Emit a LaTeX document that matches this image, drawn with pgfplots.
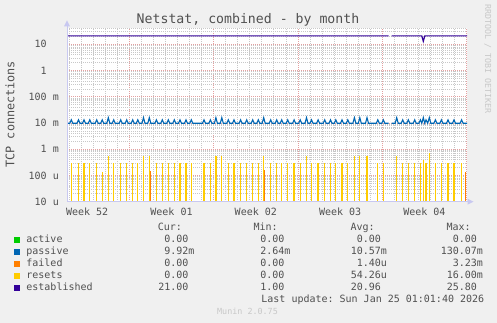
\documentclass[border=0pt]{standalone}
\usepackage{pgfplots}
\pgfplotsset{compat=1.18}
\usepackage{fontspec}
\setmainfont{DejaVu Sans Mono}
\frenchspacing
\definecolor{bg}{RGB}{240,240,240}
\definecolor{txt}{RGB}{80,80,80}
\definecolor{mgrid}{RGB}{228,160,160}
\definecolor{ngrid}{RGB}{200,200,200}
\definecolor{axc}{RGB}{200,200,240}
\definecolor{faint}{RGB}{200,200,200}
\definecolor{cactive}{HTML}{00CC00}
\definecolor{cpassive}{HTML}{0066B3}
\definecolor{cfailed}{HTML}{FF8000}
\definecolor{cresets}{HTML}{FFCC00}
\definecolor{cestab}{HTML}{330099}
\begin{document}
\frenchspacing
\begin{tikzpicture}[x=1pt,y=1pt]
\useasboundingbox (0,0) rectangle (497,323);
\fill[bg] (0,0) rectangle (497,323);
\begin{axis}[
  at={(67pt,121.3pt)}, anchor=south west,
  scale only axis, width=400pt, height=174pt,
  xmin=67, xmax=467, ymode=log, ymin=1e-5, ymax=43,
  log origin y=infty,
  unbounded coords=jump,
  axis background/.style={fill=white},
  axis x line*=bottom, axis y line*=left,
  axis line style={axc, line width=0.9pt},
  major tick length=0pt, minor tick length=0pt,
  xtick={129.3,213.6,297.9,382.2,466.5}, xticklabels={},
  minor xtick={69.1,81.1,93.2,105.2,117.3,141.3,153.4,165.4,177.5,189.5,201.6,225.6,237.7,249.7,261.8,273.8,285.9,309.9,322.0,334.0,346.1,358.1,370.2,394.2,406.3,418.3,430.4,442.4,454.5},
  extra x ticks={87.2,171.5,255.8,340.1,424.4},
  extra x tick labels={Week 52,Week 01,Week 02,Week 03,Week 04},
  extra x tick style={grid=none, major tick length=0pt},
  xticklabel style={anchor=base, inner sep=0pt, yshift=-14.3pt},
  ytick={1e-5,1e-4,1e-3,1e-2,1e-1,1,10},
  yticklabels={{10 u},{100 u},{1 m},{10 m},{100 m},{1\phantom{00}},{10\phantom{00}}},
  minor ytick={2e-5,3e-5,4e-5,5e-5,6e-5,7e-5,8e-5,9e-5,2e-4,3e-4,4e-4,5e-4,6e-4,7e-4,8e-4,9e-4,2e-3,3e-3,4e-3,5e-3,6e-3,7e-3,8e-3,9e-3,2e-2,3e-2,4e-2,5e-2,6e-2,7e-2,8e-2,9e-2,0.2,0.3,0.4,0.5,0.6,0.7,0.8,0.9,2,3,4,5,6,7,8,9,20,30,40},
  yticklabel style={anchor=east, inner sep=0pt, xshift=-8pt},
  tick label style={font=\fontsize{10}{12}\selectfont, text=txt},
  /pgf/number format/assume math mode=true,
  xmajorgrids, xminorgrids, ymajorgrids, yminorgrids,
  major grid style={mgrid, line width=0.7pt, dash pattern=on 1pt off 1pt},
  minor grid style={ngrid, line width=0.7pt, dash pattern=on 1pt off 1pt},
  clip=true,
]
% passive
\addplot[cpassive, line width=1.1pt, mark=none] coordinates {
(67,0.0098)
(69.8,0.0098)(71.3,0.0132)(72.8,0.0098)
(77,0.0098)(78.5,0.0132)(80,0.0098)
(82.5,0.0098)(84,0.0132)(85.5,0.0098)
(88.3,0.0098)(89.8,0.0132)(91.3,0.0098)
(95.2,0.0098)(96.7,0.0132)(98.2,0.0098)
(100.7,0.0098)(102.2,0.0132)(103.7,0.0098)
(106.8,0.0098)(108.3,0.016)(109.8,0.0098)
(112.2,0.0098)(113.7,0.0132)(115.2,0.0098)
(119.2,0.0098)(120.7,0.0132)(122.2,0.0098)
(125.2,0.0098)(126.7,0.0132)(128.2,0.0098)
(131.2,0.0098)(132.7,0.0132)(134.2,0.0098)
(136.3,0.0098)(137.8,0.0132)(139.3,0.0098)
(142,0.0098)(143.5,0.016)(145,0.0098)
(147.8,0.0098)(149.3,0.016)(150.8,0.0098)
(154.9,0.0098)(156.4,0.0132)(157.9,0.0098)
(160.8,0.0098)(162.3,0.0132)(163.8,0.0098)
(166.8,0.0098)(168.3,0.0132)(169.8,0.0098)
(172.8,0.0098)(174.3,0.0132)(175.8,0.0098)
(178.5,0.0098)(180,0.0132)(181.5,0.0098)
(184.5,0.0098)(186,0.0132)(187.5,0.0098)
(189.8,0.0098)(191.3,0.0132)(192.8,0.0098)
(202.5,0.0098)(204,0.0132)(205.5,0.0098)
(208.9,0.0098)(210.4,0.0132)(211.9,0.0098)
(214.4,0.0098)(215.9,0.016)(217.4,0.0098)
(220.3,0.0098)(221.8,0.016)(223.3,0.0098)
(226.8,0.0098)(228.3,0.0132)(229.8,0.0098)
(232.5,0.0098)(234,0.0132)(235.5,0.0098)
(239.1,0.0098)(240.6,0.0132)(242.1,0.0098)
(245.2,0.0098)(246.7,0.0132)(248.2,0.0098)
(251.2,0.0098)(252.7,0.0132)(254.2,0.0098)
(256.8,0.0098)(258.3,0.0132)(259.8,0.0098)
(262.2,0.0098)(263.7,0.016)(265.2,0.0098)
(269.2,0.0098)(270.7,0.0132)(272.2,0.0098)
(275.2,0.0098)(276.7,0.0132)(278.2,0.0098)
(280.2,0.0098)(281.7,0.0132)(283.2,0.0098)
(286.2,0.0098)(287.7,0.0132)(289.2,0.0098)
(292.6,0.0098)(294.1,0.0132)(295.6,0.0098)
(298.7,0.0098)(300.2,0.0132)(301.7,0.0098)
(305,0.0098)(306.5,0.016)(308,0.0098)
(310,0.0098)(311.5,0.0132)(313,0.0098)
(316.6,0.0098)(318.1,0.0132)(319.6,0.0098)
(323.2,0.0098)(324.7,0.0132)(326.2,0.0098)
(329,0.0098)(330.5,0.0132)(332,0.0098)
(334.3,0.0098)(335.8,0.0132)(337.3,0.0098)
(340.5,0.0098)(342,0.0132)(343.5,0.0098)
(346.3,0.0098)(347.8,0.0132)(349.3,0.0098)
(352.9,0.0098)(354.4,0.016)(355.9,0.0098)
(358.3,0.0098)(359.8,0.016)(361.3,0.0098)
(365.5,0.0098)(367,0.016)(368.5,0.0098)
(376.3,0.0098)(377.8,0.0132)(379.3,0.0098)
(381.8,0.0098)(383.3,0.0132)(384.8,0.0098)
(388.5,0.0098)(390,nan)(391.5,0.0098)
(395.2,0.0098)(396.7,0.016)(398.2,0.0098)
(401.2,0.0098)(402.7,0.0132)(404.2,0.0098)
(406.8,0.0098)(408.3,0.0132)(409.8,0.0098)
(413.2,0.0098)(414.7,0.0132)(416.2,0.0098)
(418.9,0.0098)(420.4,0.0132)(421.8,0.0098)
(423.3,0.016)(424.7,0.0098)
(426,0.0132)(427.7,0.0098)
(429.3,0.016)(430.8,0.0098)
(433.9,0.0098)(435.4,0.0132)(436.9,0.0098)
(439.9,0.0098)(441.4,0.0132)(442.9,0.0098)
(446.5,0.0098)(448,0.0132)(449.5,0.0098)
(452.5,0.0098)(454,0.0132)(455.5,0.0098)
(460.1,0.0098)(461.6,0.0132)(463.1,0.0098)
(467,0.0098)
};
% failed
\addplot[ycomb, cfailed, line width=1.4pt, mark=none] coordinates {
(150.3,1.5e-4)(264.5,1.6e-4)(465.2,1.3e-4)
};
% resets
\addplot[ycomb, cresets, line width=1.3pt, mark=none] coordinates {
(71.3,3.0e-4)(78.5,3.0e-4)(84,3.0e-4)(89.8,3.0e-4)(96.7,3.0e-4)
(102.2,1.4e-4)(108.3,5.7e-4)(113.7,3.0e-4)(120.7,3.0e-4)(126.7,3.0e-4)
(132.7,3.0e-4)(137.8,3.0e-4)(143.5,5.7e-4)(149.3,5.7e-4)(156.4,3.0e-4)
(162.3,3.0e-4)(168.3,3.0e-4)(174.3,3.0e-4)(180,3.0e-4)(186,3.0e-4)
(191.3,3.0e-4)(204,3.0e-4)(210.4,3.0e-4)(215.9,5.7e-4)(221.8,5.7e-4)
(228.3,3.0e-4)(234,3.0e-4)(240.6,3.0e-4)(246.7,3.0e-4)(252.7,3.0e-4)
(258.3,3.0e-4)(263.7,5.7e-4)(270.7,3.0e-4)(276.7,3.0e-4)(281.7,3.0e-4)
(287.7,3.0e-4)(294.1,3.0e-4)(300.2,3.0e-4)(306.5,5.7e-4)(311.5,3.0e-4)
(318.1,3.0e-4)(324.7,3.0e-4)(330.5,3.0e-4)(335.8,3.0e-4)(342,3.0e-4)
(347.8,3.0e-4)(354.4,5.7e-4)(359.8,5.7e-4)(367,5.7e-4)(377.8,3.0e-4)
(383.3,3.0e-4)(396.7,5.7e-4)(402.7,3.0e-4)(408.3,3.0e-4)(414.7,3.0e-4)
(420.4,3.0e-4)(423.3,4.0e-4)(426,3.0e-4)(429.3,7.4e-4)(435.4,3.0e-4)
(441.4,3.0e-4)(448,3.0e-4)(454,3.0e-4)(461.6,3.0e-4)
};
% established
\addplot[cestab, line width=1.2pt, mark=none] coordinates {
(67,21)(388.5,21)(390,nan)(391.5,21)(421.8,21)(423.3,13)(424.8,21)(467,21)
};
\end{axis}
% axis arrows
\draw[axc, line width=0.9pt] (67,121.3) -- (67,297);
\fill[axc] (64,296.5) -- (67,302.5) -- (70,296.5) -- cycle;
\draw[axc, line width=0.9pt] (67,121.3) -- (468,121.3);
\fill[axc] (467.5,124.3) -- (473.5,121.3) -- (467.5,118.3) -- cycle;
% title and labels
\node[anchor=base, inner sep=0pt, text=txt, font=\fontsize{13.2}{15}\selectfont] at (248,299.7) {Netstat, combined - by month};
\node[anchor=base, inner sep=0pt, rotate=90, text=txt, font=\fontsize{11.8}{14}\selectfont] at (14.3,208.8) {TCP connections};
\node[anchor=base, inner sep=0pt, rotate=-90, text=faint, font=\fontsize{8.3}{10}\selectfont] at (485,264) {RRDTOOL / TOBI OETIKER};
% legend
\begin{scope}[every node/.style={inner sep=0pt, text=txt, font=\fontsize{10}{12}\selectfont\frenchspacing}]
\node[anchor=base west] at (157.6,92.3) {Cur:};
\node[anchor=base west] at (253.3,92.3) {Min:};
\node[anchor=base west] at (350.4,92.3) {Avg:};
\node[anchor=base west] at (446.4,92.3) {Max:};
% rows
\fill[cactive] (14,79.7) rectangle (20,85.7);
\fill[cpassive] (14,67.7) rectangle (20,73.7);
\fill[cfailed] (14,55.7) rectangle (20,61.7);
\fill[cresets] (14,43.7) rectangle (20,49.7);
\fill[cestab] (14,31.7) rectangle (20,37.7);
\node[anchor=base west] at (26.2,80.5) {active};
\node[anchor=base west] at (26.2,68.5) {passive};
\node[anchor=base west] at (26.2,56.5) {failed};
\node[anchor=base west] at (26.2,44.5) {resets};
\node[anchor=base west] at (26.2,32.5) {established};
% Cur
\node[anchor=base east] at (194.6,80.5) {0.00\phantom{m}};
\node[anchor=base east] at (194.6,68.5) {9.92m};
\node[anchor=base east] at (194.6,56.5) {0.00\phantom{m}};
\node[anchor=base east] at (194.6,44.5) {0.00\phantom{m}};
\node[anchor=base east] at (194.6,32.5) {21.00\phantom{m}};
% Min
\node[anchor=base east] at (290.6,80.5) {0.00\phantom{m}};
\node[anchor=base east] at (290.6,68.5) {2.64m};
\node[anchor=base east] at (290.6,56.5) {0.00\phantom{m}};
\node[anchor=base east] at (290.6,44.5) {0.00\phantom{m}};
\node[anchor=base east] at (290.6,32.5) {1.00\phantom{m}};
% Avg
\node[anchor=base east] at (387.1,80.5) {0.00\phantom{m}};
\node[anchor=base east] at (387.1,68.5) {10.57m};
\node[anchor=base east] at (387.1,56.5) {1.40u};
\node[anchor=base east] at (387.1,44.5) {54.26u};
\node[anchor=base east] at (387.1,32.5) {20.96\phantom{m}};
% Max
\node[anchor=base east] at (483.2,80.5) {0.00\phantom{m}};
\node[anchor=base east] at (483.2,68.5) {130.07m};
\node[anchor=base east] at (483.2,56.5) {3.23m};
\node[anchor=base east] at (483.2,44.5) {16.00m};
\node[anchor=base east] at (483.2,32.5) {25.80\phantom{m}};
\node[anchor=base west] at (261.2,20.5) {Last update: Sun Jan 25 01:01:40 2026};
\end{scope}
\node[anchor=base, inner sep=0pt, text=faint, font=\fontsize{8.4}{10}\selectfont] at (247.5,8) {Munin 2.0.75};
\end{tikzpicture}
\end{document}
